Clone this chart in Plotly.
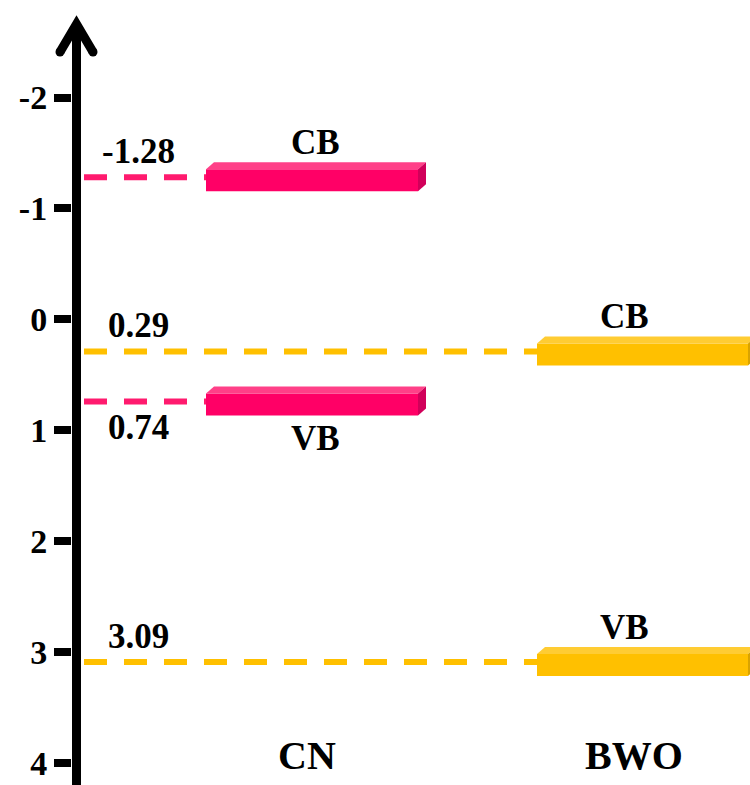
import plotly.graph_objects as go

# Band-edge potentials (V) for each material
materials = ["CN", "BWO"]
cb_values = [-1.28, 0.29]
vb_values = [0.74, 3.09]

# Axis ticks
tick_vals = [-2, -1, 0, 1, 2, 3, 4]
tick_text = ["-2", "-1", "0", "1", "2", "3", "4"]

# ---- styling ----
W, H = 750, 785
PX = 1 / 110.9                      # one screen pixel in potential units
Y_TOP, Y_BOT = -2.879, 4.198        # visible potential window (top -> bottom)
X_LEFT = 72                         # x axis runs in screen-like units
AXIS_X = 76.5
FONT = "Liberation Serif"

colors = {
    "CN": dict(front="#FF0066", top="#FF4088", side="#D1005A", dash="#FF1A6E"),
    "BWO": dict(front="#FFC000", top="#FFCC33", side="#D9A300", dash="#FFC000"),
}
bar_x = {"CN": (206, 418), "BWO": (537, 748)}
band_label_x = {"CN": 315, "BWO": 624}
value_label_x = 138
# side of the value label relative to its line: -1 above, +1 below
value_label_side = {("CN", "CB"): -1, ("CN", "VB"): 1, ("BWO", "CB"): -1, ("BWO", "VB"): -1}

BAR_H = 22 * PX
DEPTH_X = 8
DEPTH_Y = 7 * PX

fig = go.Figure()


def add_band(name, band, value):
    c = colors[name]
    x0, x1 = bar_x[name]
    # dashed level line from the axis to the bar
    fig.add_trace(go.Scatter(
        x=[84, x0], y=[value, value], mode="lines",
        line=dict(color=c["dash"], width=6, dash="23px,17px"),
        hoverinfo="skip", showlegend=False))
    yc = value + 3 * PX
    yt, yb = yc - BAR_H / 2, yc + BAR_H / 2
    faces = [
        ([x0, x1, x1, x0, x0], [yt, yt, yb, yb, yt], c["front"]),
        ([x0, x0 + DEPTH_X, x1 + DEPTH_X, x1, x0],
         [yt, yt - DEPTH_Y, yt - DEPTH_Y, yt, yt], c["top"]),
        ([x1, x1 + DEPTH_X, x1 + DEPTH_X, x1, x1],
         [yt, yt - DEPTH_Y, yb - DEPTH_Y, yb, yt], c["side"]),
    ]
    for fx, fy, col in faces:
        fig.add_trace(go.Scatter(
            x=fx, y=fy, mode="lines", fill="toself", fillcolor=col,
            line=dict(width=0, color=col), hoverinfo="skip", showlegend=False))

    side = value_label_side[(name, band)]
    fig.add_annotation(
        x=value_label_x, y=value + side * 26 * PX, text=f"{value:.2f}",
        showarrow=False, font=dict(family=FONT, size=35, color="black", weight="bold"))
    fig.add_annotation(
        x=band_label_x[name], y=value + (37 if side > 0 and name == "CN" else -35) * PX,
        text=band, showarrow=False,
        font=dict(family=FONT, size=35, color="black", weight="bold"))


for name, cb, vb in zip(materials, cb_values, vb_values):
    add_band(name, "CB", cb)
    add_band(name, "VB", vb)

# material names along the bottom
for name in materials:
    fig.add_annotation(
        x=band_label_x[name] + (10 if name == "BWO" else -8), y=3.93, text=name,
        showarrow=False, font=dict(family=FONT, size=40, color="black", weight="bold"))


# vertical potential axis with an arrow head (paper coordinates, so it may
# extend into the left margin)
def px_x(p):
    return (p - X_LEFT) / (W - X_LEFT)


def px_y(p):
    return 1 - p / H


fig.add_shape(type="line", xref="paper", yref="paper",
              x0=px_x(AXIS_X), x1=px_x(AXIS_X), y0=px_y(24), y1=px_y(H + 5),
              line=dict(color="black", width=9))
fig.add_shape(type="path", xref="paper", yref="paper",
              path=(f"M {px_x(60)},{px_y(52)} L {px_x(AXIS_X)},{px_y(24)} "
                    f"L {px_x(93)},{px_y(52)}"),
              line=dict(color="black", width=9))
for ex in (60, 93):
    fig.add_shape(type="circle", xref="paper", yref="paper",
                  x0=px_x(ex - 4.5), x1=px_x(ex + 4.5),
                  y0=px_y(52 + 4.5), y1=px_y(52 - 4.5),
                  line=dict(width=0), fillcolor="black")

fig.update_layout(
    width=W, height=H,
    margin=dict(l=X_LEFT, r=0, t=0, b=0),
    paper_bgcolor="white", plot_bgcolor="white",
    xaxis=dict(range=[X_LEFT, W], visible=False, fixedrange=True),
    yaxis=dict(
        range=[Y_BOT, Y_TOP], tickvals=tick_vals, ticktext=tick_text,
        ticks="outside", ticklen=17, tickwidth=8, tickcolor="black",
        showgrid=False, zeroline=False, showline=False, ticklabelstandoff=0,
        tickfont=dict(family=FONT, size=34, color="black", weight="bold"),
        fixedrange=True),
)

fig.write_html("out.html")
